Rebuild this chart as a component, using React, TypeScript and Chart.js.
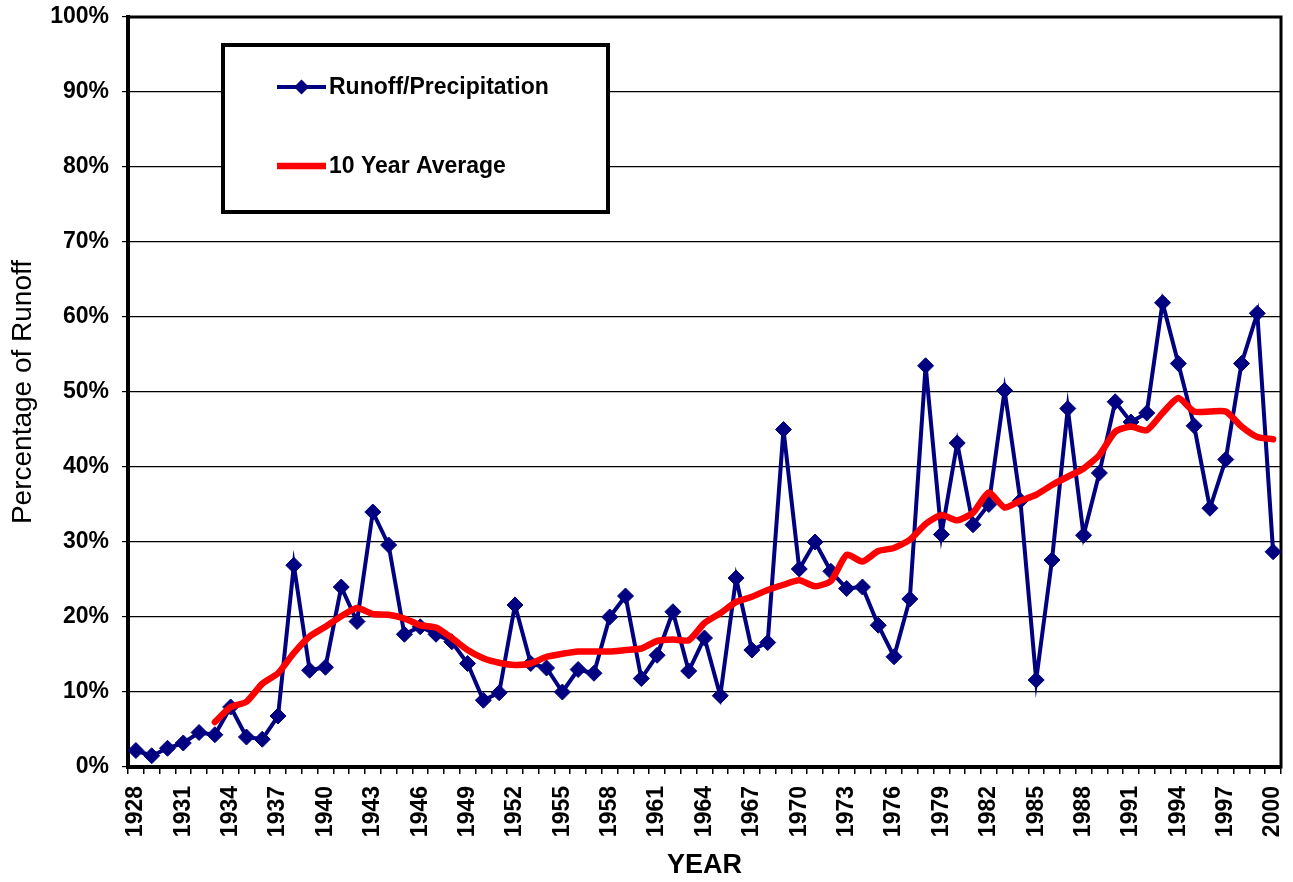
import React, { useEffect, useRef } from 'react';
import { Chart, registerables } from 'chart.js';

Chart.register(...registerables);

const years = [
  '1928', '1929', '1930', '1931', '1932', '1933', '1934', '1935', '1936', '1937',
  '1938', '1939', '1940', '1941', '1942', '1943', '1944', '1945', '1946', '1947',
  '1948', '1949', '1950', '1951', '1952', '1953', '1954', '1955', '1956', '1957',
  '1958', '1959', '1960', '1961', '1962', '1963', '1964', '1965', '1966', '1967',
  '1968', '1969', '1970', '1971', '1972', '1973', '1974', '1975', '1976', '1977',
  '1978', '1979', '1980', '1981', '1982', '1983', '1984', '1985', '1986', '1987',
  '1988', '1989', '1990', '1991', '1992', '1993', '1994', '1995', '1996', '1997',
  '1998', '1999', '2000',
];

const runoffPct = [
  2.2, 1.5, 2.5, 3.2, 4.6, 4.3, 8.0, 4.0, 3.7, 6.8,
  26.9, 12.9, 13.3, 24.0, 19.4, 34.0, 29.6, 17.7, 18.7, 17.7,
  16.7, 13.8, 8.9, 9.9, 21.6, 13.8, 13.2, 10.0, 13.0, 12.5,
  20.0, 22.8, 11.8, 14.9, 20.7, 12.8, 17.2, 9.5, 25.2, 15.6,
  16.6, 45.0, 26.4, 30.0, 26.1, 23.8, 24.0, 18.9, 14.7, 22.4,
  53.5, 31.0, 43.2, 32.3, 35.0, 50.2, 35.5, 11.6, 27.6, 47.8,
  30.9, 39.2, 48.7, 46.0, 47.2, 61.9, 53.8, 45.5, 34.5, 41.0,
  53.8, 60.5, 28.7,
];

const tenYearAvgPct = [
  null, null, null, null, null, 6.0, 8.0, 8.7, 11.1, 12.5,
  15.2, 17.4, 18.7, 20.1, 21.2, 20.4, 20.3, 19.8, 18.9, 18.6,
  17.2, 15.6, 14.5, 13.9, 13.6, 13.8, 14.7, 15.1, 15.4, 15.4,
  15.4, 15.6, 15.8, 16.8, 17.0, 16.9, 19.2, 20.5, 22.0, 22.7,
  23.6, 24.3, 24.9, 24.1, 24.8, 28.3, 27.4, 28.8, 29.2, 30.3,
  32.4, 33.6, 32.9, 33.9, 36.6, 34.6, 35.5, 36.3, 37.6, 38.7,
  39.8, 41.6, 44.7, 45.4, 44.9, 47.2, 49.2, 47.4, 47.4, 47.4,
  45.4, 44.0, 43.7,
];

const seriesNames = ['Runoff/Precipitation', '10 Year Average'];
const xTitle = 'YEAR';
const yTitle = 'Percentage of Runoff';

const FONT = "Arial, 'Liberation Sans', Helvetica, sans-serif";
const NAVY = '#000080';
const RED = '#ff0000';

function diamond(ctx: CanvasRenderingContext2D, x: number, y: number, r: number) {
  ctx.beginPath();
  ctx.moveTo(x, y - r);
  ctx.lineTo(x + r, y);
  ctx.lineTo(x, y + r);
  ctx.lineTo(x - r, y);
  ctx.closePath();
  ctx.fill();
}

const frameAndLegend = {
  id: 'frameAndLegend',
  beforeDatasetsDraw(chart: any) {
    const { ctx, chartArea: a } = chart;
    ctx.save();
    ctx.strokeStyle = '#000';
    ctx.lineWidth = 3;
    ctx.strokeRect(a.left, a.top, a.right - a.left, a.bottom - a.top);
    ctx.restore();
  },
  afterDatasetsDraw(chart: any) {
    const { ctx, chartArea: a } = chart;
    const bx = a.left + 95;
    const by = a.top + 28;
    const bw = 385;
    const bh = 167;
    ctx.save();
    ctx.fillStyle = '#fff';
    ctx.fillRect(bx, by, bw, bh);
    ctx.strokeStyle = '#000';
    ctx.lineWidth = 4;
    ctx.strokeRect(bx, by, bw, bh);

    const ds = chart.data.datasets;
    const rows = [by + 42, by + 121];
    ds.forEach((d: any, i: number) => {
      const y = rows[i];
      const x0 = bx + 54;
      const x1 = bx + 103;
      ctx.strokeStyle = d.borderColor;
      ctx.lineWidth = i === 0 ? 4 : 6.5;
      ctx.lineCap = 'butt';
      ctx.beginPath();
      ctx.moveTo(x0, y);
      ctx.lineTo(x1, y);
      ctx.stroke();
      if (i === 0) {
        ctx.fillStyle = d.borderColor;
        diamond(ctx, (x0 + x1) / 2, y, 7.5);
      }
      ctx.fillStyle = '#000';
      ctx.font = `bold 23px ${FONT}`;
      ctx.textBaseline = 'middle';
      ctx.textAlign = 'left';
      ctx.fillText(d.label, x1 + 3, y + 1);
    });
    ctx.restore();
  },
};

export default function App() {
  const canvasRef = useRef<HTMLCanvasElement | null>(null);

  useEffect(() => {
    const canvas = canvasRef.current;
    if (!canvas) return;
    const chart = new Chart(canvas, {
      type: 'line',
      data: {
        labels: years,
        datasets: [
          {
            label: seriesNames[0],
            data: runoffPct,
            borderColor: NAVY,
            backgroundColor: NAVY,
            borderWidth: 4,
            pointStyle: 'rectRot',
            pointRadius: 8,
            pointBorderWidth: 1,
            pointBackgroundColor: NAVY,
            pointBorderColor: NAVY,
            tension: 0,
            order: 2,
          },
          {
            label: seriesNames[1],
            data: tenYearAvgPct,
            borderColor: RED,
            backgroundColor: RED,
            borderWidth: 6.5,
            pointRadius: 0,
            tension: 0.2,
            borderCapStyle: 'round',
            borderJoinStyle: 'round',
            spanGaps: false,
            order: 1,
          },
        ],
      },
      options: {
        responsive: false,
        animation: false,
        color: '#000',
        layout: { padding: { top: 17, right: 12, left: 0, bottom: 0 } },
        plugins: {
          legend: { display: false },
          tooltip: { enabled: false },
        },
        scales: {
          x: {
            type: 'category',
            offset: true,
            grid: {
              offset: true,
              drawOnChartArea: false,
              drawTicks: true,
              tickLength: 7,
              color: '#000',
              lineWidth: 1.5,
            },
            border: { display: true, color: '#000', width: 4 },
            ticks: {
              autoSkip: false,
              minRotation: 90,
              maxRotation: 90,
              padding: 12,
              color: '#000',
              font: { family: FONT, size: 23, weight: 'bold' },
              callback: (_v: any, i: number) => (i % 3 === 0 ? years[i] : ''),
            },
            title: {
              display: true,
              text: xTitle,
              color: '#000',
              font: { family: FONT, size: 27, weight: 'bold', lineHeight: 1.2 },
              padding: { top: 0, bottom: 0 },
            },
            afterFit: (scale: any) => {
              scale.height = 115;
              scale.paddingLeft = 0;
              scale.paddingRight = 0;
            },
          },
          y: {
            min: 0,
            max: 100,
            ticks: {
              stepSize: 10,
              padding: 13,
              color: '#000',
              font: { family: FONT, size: 23, weight: 'bold' },
              callback: (v: any) => `${v}%`,
            },
            grid: {
              color: '#000',
              lineWidth: 1.2,
              drawTicks: true,
              tickLength: 6,
            },
            border: { display: true, color: '#000', width: 4 },
            title: {
              display: true,
              text: yTitle,
              color: '#000',
              font: { family: FONT, size: 28, weight: 'normal', lineHeight: 1.2 },
              padding: { top: 6, bottom: 0 },
            },
            afterFit: (scale: any) => {
              scale.width = 128;
              scale.paddingTop = 0;
              scale.paddingBottom = 0;
            },
          },
        },
      },
      plugins: [frameAndLegend],
    });
    return () => chart.destroy();
  }, []);

  return (
    <div style={{ position: 'fixed', left: 0, top: 0, width: 1293, height: 882, background: '#fff' }}>
      <canvas ref={canvasRef} width={1293} height={882} style={{ display: 'block' }} />
    </div>
  );
}
